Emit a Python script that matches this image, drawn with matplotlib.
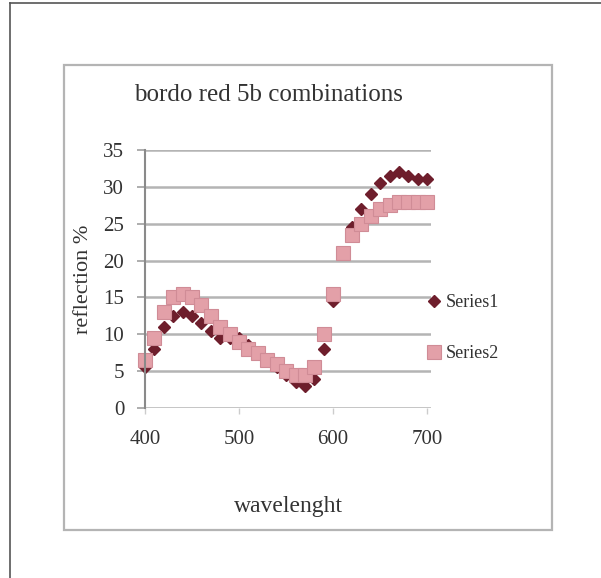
import numpy as np
import matplotlib
matplotlib.use("Agg")
import matplotlib.pyplot as plt
from matplotlib.lines import Line2D
from matplotlib.patches import Rectangle

# values, every 10 nm
wavelength = list(range(400, 701, 10))
series1 = [5.5, 8, 11, 12.5, 13, 12.5, 11.5, 10.5, 9.5, 9.5, 9.5,
           8.5, 7.5, 6.5, 5.5, 4.5, 3.5, 3, 4, 8, 14.5,
           21, 24.5, 27, 29, 30.5, 31.5, 32, 31.5, 31, 31]
series2 = [6.5, 9.5, 13, 15, 15.5, 15, 14, 12.5, 11, 10, 9,
           8, 7.5, 6.5, 6, 5, 4.5, 4.5, 5.5, 10, 15.5,
           21, 23.5, 25, 26, 27, 27.5, 28, 28, 28, 28]
x_ticks = [400, 500, 600, 700]
y_ticks = [0, 5, 10, 15, 20, 25, 30, 35]

W, H = 601, 578
plt.rcParams['font.family'] = ['Liberation Serif', 'DejaVu Serif']

fig = plt.figure(figsize=(W/100, H/100), dpi=100)
fig.patch.set_facecolor('white')

def fx(px): return px / W
def fy(py): return 1 - py / H

# outer frame (only left and top visible)
fig.add_artist(Line2D([fx(10), fx(10)], [fy(3), 0], color='#555555', lw=1.2))
fig.add_artist(Line2D([fx(10), 1], [fy(3), fy(3)], color='#555555', lw=1.2))
# chart area border
fig.add_artist(Rectangle((fx(64), fy(530)), fx(552) - fx(64), fy(65) - fy(530),
                         fill=False, edgecolor='#b4b4b4', lw=1.6))

ax = fig.add_axes([fx(145), fy(408), fx(431) - fx(145), fy(150) - fy(408)])
ax.set_xlim(400, 704)
ax.set_ylim(0, 35)
ax.set_facecolor('none')

for sp in ['top', 'right', 'bottom']:
    ax.spines[sp].set_visible(False)
ax.spines['left'].set_color('#8a8a8a')
ax.spines['left'].set_linewidth(1.5)

ax.set_yticks(y_ticks)
ax.set_xticks(x_ticks)
ax.yaxis.grid(True, color='#b4b4b4', lw=1.8)
ax.set_axisbelow(True)
ax.tick_params(axis='y', length=6, width=1.2, color='#a0a0a0', labelsize=15,
               labelcolor='#333333', pad=9)
ax.tick_params(axis='x', length=4, width=1.0, color='#cccccc', labelsize=15,
               labelcolor='#333333', pad=12)

ax.plot(wavelength, series1, linestyle='none', marker='D', markersize=6,
        color='#6e1e2c', label='Series1', clip_on=False)
ax.plot(wavelength, series2, linestyle='none', marker='s', markersize=9.5,
        markerfacecolor='#e3a0a8', markeredgecolor='#d08c96', markeredgewidth=0.8,
        label='Series2', clip_on=False)

ax.set_title('bordo red 5b combinations', fontsize=18, color='#333333',
             x=fx(268 - 145) / (fx(431) - fx(145)), y=1.0, pad=35)
ax.set_ylabel('reflection %', fontsize=16, color='#333333', labelpad=7)
ax.set_xlabel('wavelenght', fontsize=17, color='#333333', labelpad=34)

ax.legend(loc='center left', bbox_to_anchor=(fx(420), fy(328)),
          bbox_transform=fig.transFigure, frameon=False, fontsize=13,
          labelspacing=1.9, handlelength=0.6, handletextpad=0.3,
          borderpad=0, labelcolor='#333333')

fig.savefig('out.png', dpi=100)
